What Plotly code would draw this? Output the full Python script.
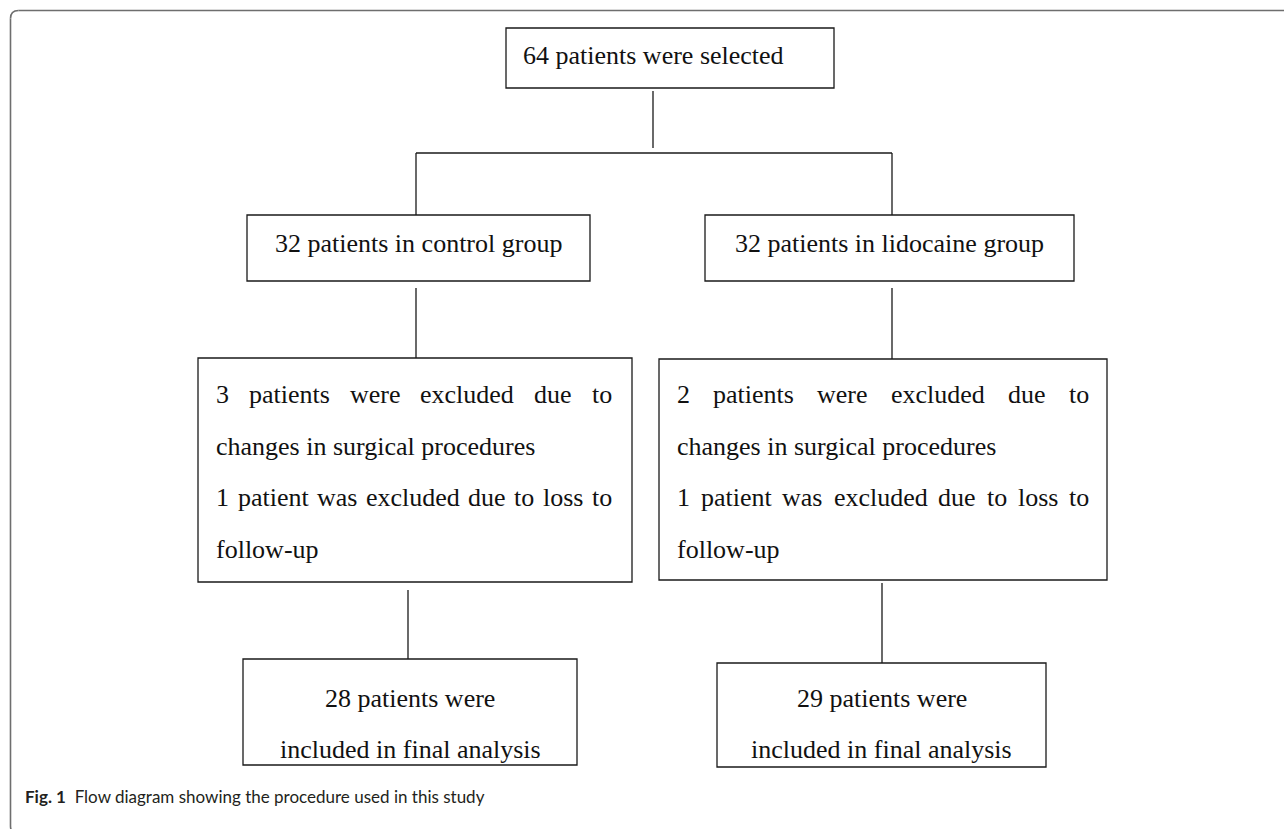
import plotly.graph_objects as go

# ---------------- data (text content) ----------------
top_label = "64 patients were selected"
group_labels = ["32 patients in control group", "32 patients in lidocaine group"]
excluded_lines = [
    ["3 patients were excluded due to", "changes in surgical procedures",
     "1 patient was excluded due to loss to", "follow-up"],
    ["2 patients were excluded due to", "changes in surgical procedures",
     "1 patient was excluded due to loss to", "follow-up"],
]
justified = [True, False, True, False]
final_labels = [
    ["28 patients were", "included in final analysis"],
    ["29 patients were", "included in final analysis"],
]
caption_bold = "Fig. 1"
caption_text = "Flow diagram showing the procedure used in this study"

# ---------------- layout constants (pixels) ----------------
W, H = 1284, 829
FS = 26
SERIF = "Liberation Serif, Times New Roman, serif"
BOX_COL = "#1a1a1a"
FRAME_COL = "#6e6e6e"
LW = 1.3

top_box = (506, 28, 834, 88)
group_boxes = [(247, 215, 590, 281), (705, 215, 1074, 281)]
excl_boxes = [(198, 358, 632, 582), (659, 359, 1107, 580)]
final_boxes = [(243, 659, 577, 765), (717, 663, 1046, 767)]
excl_text_bounds = [(216, 612), (677, 1089)]
excl_line_y = [394, 446, 497, 549]

# Times metrics (per 1000 em) for justification
TIMES = {' ': 250, 'a': 444, 'b': 500, 'c': 444, 'd': 500, 'e': 444, 'f': 333, 'g': 500,
         'h': 500, 'i': 278, 'j': 278, 'k': 500, 'l': 278, 'm': 778, 'n': 500, 'o': 500,
         'p': 500, 'q': 500, 'r': 333, 's': 389, 't': 278, 'u': 500, 'v': 500, 'w': 722,
         'x': 500, 'y': 500, 'z': 444, '-': 333}
for d in "0123456789":
    TIMES[d] = 500


def tw(s):
    return sum(TIMES.get(c, 500) for c in s) * FS / 1000.0


fig = go.Figure()
shapes = []
annotations = []


def box(b):
    shapes.append(dict(type="rect", xref="x", yref="y", x0=b[0], y0=b[1], x1=b[2], y1=b[3],
                       line=dict(color=BOX_COL, width=LW), fillcolor="rgba(0,0,0,0)"))


def seg(x0, y0, x1, y1, color=BOX_COL, width=LW):
    shapes.append(dict(type="line", xref="x", yref="y", x0=x0, y0=y0, x1=x1, y1=y1,
                       line=dict(color=color, width=width)))


def txt(x, y, s, anchor="center", **kw):
    annotations.append(dict(x=x, y=y, xref="x", yref="y", text=s, showarrow=False,
                            xanchor=anchor, yanchor="middle", borderpad=0, borderwidth=0,
                            font=dict(family=SERIF, size=FS, color="#111111"), **kw))


# outer frame: top line, left line and two rounded left corners (open on right/bottom)
seg(18.5, 10.5, W + 5, 10.5, FRAME_COL, 1.6)
seg(10.5, 18.5, 10.5, 826, FRAME_COL, 1.6)
shapes.append(dict(type="path", xref="x", yref="y", path="M 10.5 18.5 Q 10.5 10.5 18.5 10.5",
                   line=dict(color=FRAME_COL, width=1.6)))
shapes.append(dict(type="path", xref="x", yref="y", path="M 10.5 826 Q 10.5 834 18.5 834",
                   line=dict(color=FRAME_COL, width=1.6)))

# top box
box(top_box)
txt(top_box[0] + 17, 55, top_label, anchor="left")

# branch connectors
seg(653, 91, 653, 148)
seg(416, 153, 892, 153)
seg(416, 153, 416, 215)
seg(892, 153, 892, 215)

# group boxes
for b, lab in zip(group_boxes, group_labels):
    box(b)
    txt((b[0] + b[2]) / 2, 243, lab)

# connectors to excluded boxes
seg(416, 288, 416, 358)
seg(892, 288, 892, 359)

# excluded boxes with justified text
for b, lines, (L, R) in zip(excl_boxes, excluded_lines, excl_text_bounds):
    box(b)
    for line, y, just in zip(lines, excl_line_y, justified):
        if not just:
            txt(L, y, line, anchor="left")
            continue
        words = line.split(" ")
        total = sum(tw(w) for w in words)
        gap = (R - L - total) / (len(words) - 1)
        x = L
        for w in words:
            txt(x, y, w, anchor="left")
            x += tw(w) + gap

# connectors to final boxes
seg(408, 590, 408, 659)
seg(882, 583, 882, 663)

# final boxes
for b, lines in zip(final_boxes, final_labels):
    box(b)
    cx = (b[0] + b[2]) / 2
    txt(cx, 698, lines[0])
    txt(cx, 749, lines[1])

# caption
annotations.append(dict(x=25, y=796, xref="x", yref="y", showarrow=False,
                        xanchor="left", yanchor="middle", borderpad=0, borderwidth=0,
                        text="<b>" + caption_bold + "</b>\u00a0\u00a0" + caption_text,
                        font=dict(family="Lato, Open Sans, sans-serif", size=17, color="#231f20")))

fig.update_layout(
    width=W, height=H,
    margin=dict(l=0, r=0, t=0, b=0),
    paper_bgcolor="white", plot_bgcolor="white",
    xaxis=dict(range=[0, W], visible=False, fixedrange=True),
    yaxis=dict(range=[H, 0], visible=False, fixedrange=True),
    shapes=shapes, annotations=annotations, showlegend=False,
)

fig.write_html(
    "out.html",
    config={"displayModeBar": False},
    post_script="document.body.style.margin='0';document.body.style.overflow='hidden';"
                "document.documentElement.style.overflow='hidden';",
)
